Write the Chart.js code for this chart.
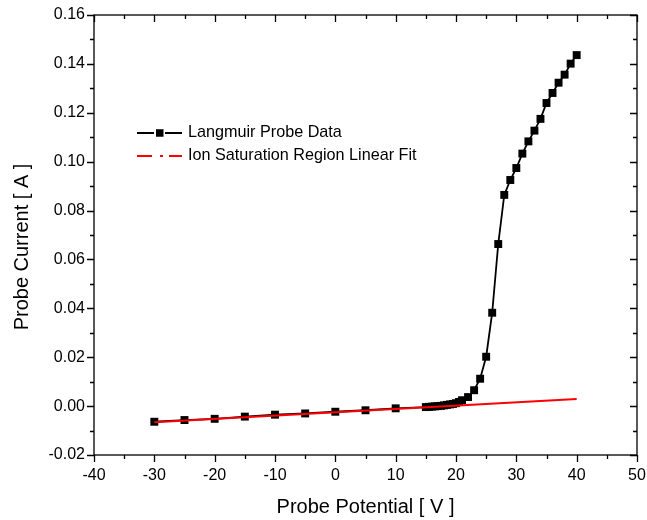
<!DOCTYPE html>
<html>
<head>
<meta charset="utf-8">
<script src="https://cdn.jsdelivr.net/npm/chart.js@4/dist/chart.umd.min.js"></script>
<style>
  html, body { margin: 0; padding: 0; background: #fff; }
  #wrap { width: 647px; height: 520px; position: relative; }
</style>
</head>
<body>
<div id="wrap"><canvas id="c" width="647" height="520"></canvas></div>
<script>
// ---- data ----
const probePotential = [-30,-25,-20,-15,-10,-5,0,5,10,15,15.5,16,16.5,17,17.5,18,18.5,19,19.5,20,20.5,21,22,23,24,25,26,27,28,29,30,31,32,33,34,35,36,37,38,39,40];
const probeCurrent = [-0.0064,-0.0057,-0.0052,-0.0043,-0.0035,-0.0030,-0.0023,-0.0017,-0.0009,-0.0004,-0.0003,-0.0002,-0.0001,0.0000,0.0001,0.0003,0.0005,0.0007,0.0009,0.0012,0.0017,0.0024,0.0037,0.0065,0.0112,0.0202,0.0382,0.0663,0.0864,0.0925,0.0974,0.1033,0.1083,0.1127,0.1175,0.1240,0.1281,0.1323,0.1356,0.1401,0.1436];
const fitPotential = [-30, 40];
const fitCurrent = [-0.0066, 0.0029];
const seriesNames = ["Langmuir Probe Data", "Ion Saturation Region Linear Fit"];
const xTitle = "Probe Potential [ V ]";
const yTitle = "Probe Current [ A ]";
const xMin = -40, xMax = 50, xStep = 10;
const yMin = -0.02, yMax = 0.16, yStep = 0.02;

const FONT = "'Liberation Sans', Arial, sans-serif";

const framePlugin = {
  id: 'frame',
  afterDraw(chart) {
    const {ctx, chartArea: a, scales: {x, y}} = chart;
    ctx.save();
    ctx.strokeStyle = '#000';
    ctx.lineWidth = 1.3;
    ctx.strokeRect(a.left, a.top, a.right - a.left, a.bottom - a.top);
    ctx.beginPath();
    const MAJ = 7, MIN = 4;
    for (let i = 0; i <= Math.round((xMax - xMin) / (xStep / 2)); i++) {
      const v = xMin + i * xStep / 2;
      const px = Math.round(x.getPixelForValue(v)) + 0.5;
      const L = (i % 2 === 0) ? MAJ : MIN;
      ctx.moveTo(px, a.bottom); ctx.lineTo(px, a.bottom + L);
      ctx.moveTo(px, a.top); ctx.lineTo(px, a.top + L);
    }
    for (let i = 0; i <= Math.round((yMax - yMin) / (yStep / 2)); i++) {
      const v = yMin + i * yStep / 2;
      const py = Math.round(y.getPixelForValue(v)) + 0.5;
      const L = (i % 2 === 0) ? MAJ : MIN;
      ctx.moveTo(a.left, py); ctx.lineTo(a.left - L, py);
      ctx.moveTo(a.right, py); ctx.lineTo(a.right - L, py);
    }
    ctx.stroke();

    // axis titles
    ctx.fillStyle = '#000';
    ctx.font = '20px ' + FONT;
    ctx.textAlign = 'center';
    ctx.textBaseline = 'middle';
    ctx.fillText(xTitle, (a.left + a.right) / 2, 507);
    ctx.save();
    ctx.translate(22, 247);
    ctx.rotate(-Math.PI / 2);
    ctx.fillText(yTitle, 0, 0);
    ctx.restore();

    // legend
    const lx0 = 137, lx1 = 182, tx = 188;
    const r1 = 133, r2 = 156;
    ctx.textAlign = 'left';
    ctx.font = '16.2px ' + FONT;
    ctx.strokeStyle = '#000';
    ctx.lineWidth = 2;
    ctx.beginPath(); ctx.moveTo(lx0, r1); ctx.lineTo(lx1, r1); ctx.stroke();
    ctx.fillStyle = '#fff';
    ctx.fillRect(154, r1 - 5.5, 11, 11);
    ctx.fillStyle = '#000';
    ctx.fillRect(156, r1 - 3.75, 7.5, 7.5);
    ctx.fillText(seriesNames[0], tx, r1);
    ctx.strokeStyle = '#ff0000';
    ctx.lineWidth = 2;
    ctx.setLineDash([15, 8, 3, 6]);
    ctx.beginPath(); ctx.moveTo(lx0, r2); ctx.lineTo(lx1, r2); ctx.stroke();
    ctx.setLineDash([]);
    ctx.fillStyle = '#000';
    ctx.fillText(seriesNames[1], tx, r2);
    ctx.restore();
  }
};

new Chart(document.getElementById('c'), {
  type: 'scatter',
  data: {
    datasets: [
      {
        label: seriesNames[1],
        data: fitPotential.map((v, i) => ({x: v, y: fitCurrent[i]})),
        showLine: true,
        borderColor: '#ff0000',
        borderWidth: 2.2,
        pointRadius: 0,
        order: 0
      },
      {
        label: seriesNames[0],
        data: probePotential.map((v, i) => ({x: v, y: probeCurrent[i]})),
        showLine: true,
        borderColor: '#000',
        backgroundColor: '#000',
        borderWidth: 1.8,
        pointStyle: 'rect',
        pointRadius: 5.6,
        pointBorderWidth: 0,
        pointBackgroundColor: '#000',
        order: 1
      }
    ]
  },
  options: {
    responsive: false,
    animation: false,
    events: [],
    layout: { padding: { left: 0, right: 10, top: 15, bottom: 0 } },
    plugins: { legend: { display: false }, tooltip: { enabled: false } },
    scales: {
      x: {
        type: 'linear', min: xMin, max: xMax,
        grid: { display: false, drawTicks: false },
        border: { display: false },
        ticks: { stepSize: xStep, padding: 11, color: '#000', font: { family: FONT, size: 16 },
                 callback: v => String(v) },
        title: { display: false },
        afterFit(s) { s.height = 65; s.paddingLeft = 0; s.paddingRight = 0; }
      },
      y: {
        type: 'linear', min: yMin, max: yMax,
        grid: { display: false, drawTicks: false },
        border: { display: false },
        ticks: { stepSize: yStep, padding: 9, color: '#000', font: { family: FONT, size: 16 },
                 callback: v => Number(v).toFixed(2) },
        title: { display: false },
        afterFit(s) { s.width = 94; s.paddingTop = 0; s.paddingBottom = 0; }
      }
    }
  },
  plugins: [framePlugin]
});
</script>
</body>
</html>
